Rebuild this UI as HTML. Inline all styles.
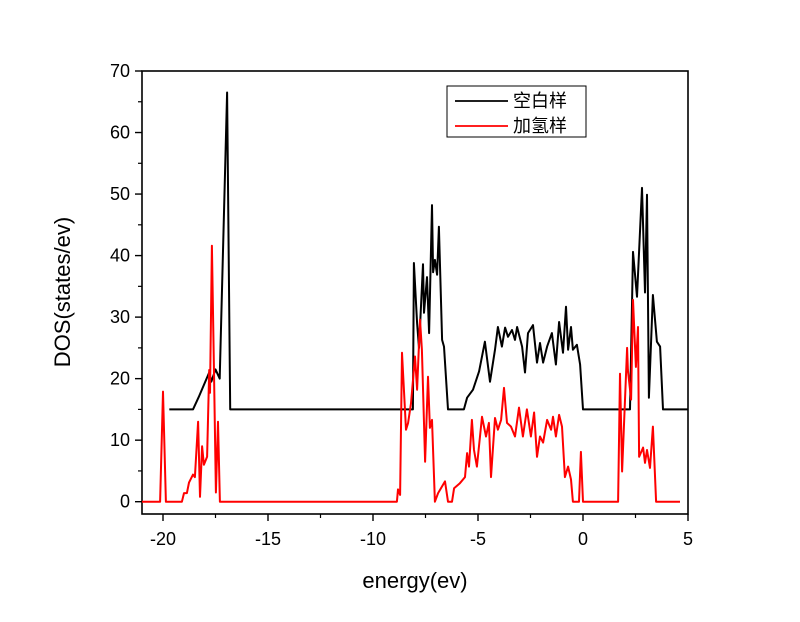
<!DOCTYPE html>
<html><head><meta charset="utf-8"><style>
body{margin:0;background:#fff}
svg text{font-family:"Liberation Sans","Noto Sans CJK SC",sans-serif}
</style></head><body>
<svg id="c" width="800" height="617" xmlns="http://www.w3.org/2000/svg"></svg>
<script>
const xTicks=[-20,-15,-10,-5,0,5];
const yTicks=[0,10,20,30,40,50,60,70];
const seriesNames=["空白样","加氢样"];
const blankE=[-19.7,-18.57,-18.3,-17.8,-17.7,-17.5,-17.3,-16.95,-16.8,-8.1,-8.05,-7.9,-7.81,-7.62,-7.57,-7.43,-7.33,-7.19,-7.14,-7.05,-6.95,-6.86,-6.71,-6.62,-6.43,-5.67,-5.52,-5.24,-4.95,-4.67,-4.43,-4.19,-4.05,-3.86,-3.71,-3.57,-3.38,-3.24,-3.14,-2.9,-2.76,-2.62,-2.38,-2.19,-2.05,-1.9,-1.71,-1.48,-1.29,-1.14,-0.95,-0.81,-0.71,-0.57,-0.48,-0.29,-0.14,0,2.24,2.38,2.57,2.81,2.95,3.05,3.14,3.33,3.52,3.67,3.81,5];
const blankD=[15,15,17,21,19.5,21.5,20,66.5,15,15,38.8,29,25,38.6,30.7,36.5,27.4,48.2,37.3,39.3,36.9,44.7,26.3,25.2,15,15,16.9,18.2,21.2,26,19.5,24.7,28.4,25.2,28.3,26.8,27.9,26.3,28.4,25.2,21,27.4,28.7,22.6,25.8,22.6,25.2,27.4,22.3,29.2,24.2,31.7,24.7,28.4,24.7,25.5,22.3,15,15,40.6,33.3,51,34,49.9,16.9,33.6,26,25.2,15,15];
const hydE=[-21,-20.14,-20,-19.86,-19.1,-19.0,-18.86,-18.76,-18.57,-18.48,-18.33,-18.24,-18.14,-18.05,-17.9,-17.8,-17.76,-17.67,-17.57,-17.48,-17.38,-17.29,-8.86,-8.81,-8.71,-8.62,-8.43,-8.33,-8.19,-8.0,-7.9,-7.76,-7.67,-7.52,-7.38,-7.29,-7.19,-7.05,-6.9,-6.57,-6.43,-6.24,-6.14,-5.86,-5.62,-5.52,-5.43,-5.29,-5.19,-5.05,-4.81,-4.62,-4.48,-4.38,-4.19,-4.05,-3.9,-3.76,-3.62,-3.43,-3.24,-3.05,-2.86,-2.67,-2.48,-2.33,-2.19,-2.05,-1.9,-1.71,-1.52,-1.43,-1.29,-1.14,-1.0,-0.86,-0.71,-0.57,-0.48,-0.19,-0.1,0,1.67,1.76,1.86,2.1,2.14,2.29,2.38,2.52,2.62,2.67,2.86,2.95,3.05,3.19,3.33,3.48,4.62];
const hydD=[0,0,17.9,0,0,1.4,1.4,3.1,4.4,4,13,0.8,9,6,7.3,21.4,17.7,41.6,21,1.5,13,0,0,2,1.1,24.2,11.7,12.8,16,23.6,18.2,29.6,24.7,6.5,20.3,12,13.3,0,1.4,3.3,0,0,2.2,3,4,7.9,5.7,13.3,8.4,5.7,13.8,10.6,12.8,4,13.6,11.7,13.3,18.5,12.8,12.2,10.6,15.3,10.6,15,10.6,14.5,7.3,10.6,9.6,13.3,11.7,13.8,10.6,14.1,12.2,4,5.7,3.6,0,0,8.1,0,0,20.8,4.9,25,21.4,16.6,32.8,21.9,28.4,7.3,8.8,6.3,8.4,5.5,12.2,0,0];
const X0=142,X1=688,Y0=514,Y1=71,xmin=-21,xmax=5,ymin=-2,ymax=70;
const sx=v=>X0+(v-xmin)/(xmax-xmin)*(X1-X0);
const sy=v=>Y0-(v-ymin)/(ymax-ymin)*(Y0-Y1);
const svg=document.getElementById('c');const NS='http://www.w3.org/2000/svg';
function mk(t,a,txt){const e=document.createElementNS(NS,t);for(const k in a)e.setAttribute(k,a[k]);if(txt!==undefined)e.textContent=txt;svg.appendChild(e);return e;}
let e;
e=mk('rect',{x:X0,y:Y1,width:X1-X0,height:Y0-Y1,fill:'none',stroke:'#000','stroke-width':1.6});


xTicks.forEach(v=>{e=mk('line',{x1:sx(v),x2:sx(v),y1:Y0,y2:Y0+7,stroke:'#000','stroke-width':1.4});


e=mk('text',{x:sx(v),y:Y0+31,'font-size':18,'text-anchor':'middle'},String(v));

});
for(let v=-20;v<5;v+=5){e=mk('line',{x1:sx(v+2.5),x2:sx(v+2.5),y1:Y0,y2:Y0+4,stroke:'#000','stroke-width':1.2});

}
yTicks.forEach(v=>{e=mk('line',{x1:X0-7,x2:X0,y1:sy(v),y2:sy(v),stroke:'#000','stroke-width':1.4});


e=mk('text',{x:X0-12,y:sy(v)+6,'font-size':18,'text-anchor':'end'},String(v));


if(v<70){e=mk('line',{x1:X0-4,x2:X0,y1:sy(v+5),y2:sy(v+5),stroke:'#000','stroke-width':1.2});

}});
e=mk('text',{x:415,y:588,'font-size':22,'text-anchor':'middle'},'energy(ev)');


e=mk('text',{x:0,y:0,'font-size':22,'text-anchor':'middle',transform:'translate(70,292) rotate(-90)'},'DOS(states/ev)');


function line(E,D,c,n){const p=E.map((x,i)=>sx(x).toFixed(1)+','+sy(D[i]).toFixed(1)).join(' ');
e=mk('polyline',{points:p,fill:'none',stroke:c,'stroke-width':2,'stroke-linejoin':'round'});

}
line(blankE,blankD,'#000','series-blank');
line(hydE,hydD,'#f00','series-hydrogenated');
e=mk('rect',{x:447,y:86,width:139,height:51,fill:'#fff',stroke:'#000','stroke-width':1});


[['#000',seriesNames[0],101],['#f00',seriesNames[1],126]].forEach(([c,t,y])=>{
e=mk('line',{x1:455,x2:508,y1:y,y2:y,stroke:c,'stroke-width':1.8});


e=mk('text',{x:513,y:y+6,'font-size':18},t);

});
</script>
</body></html>
